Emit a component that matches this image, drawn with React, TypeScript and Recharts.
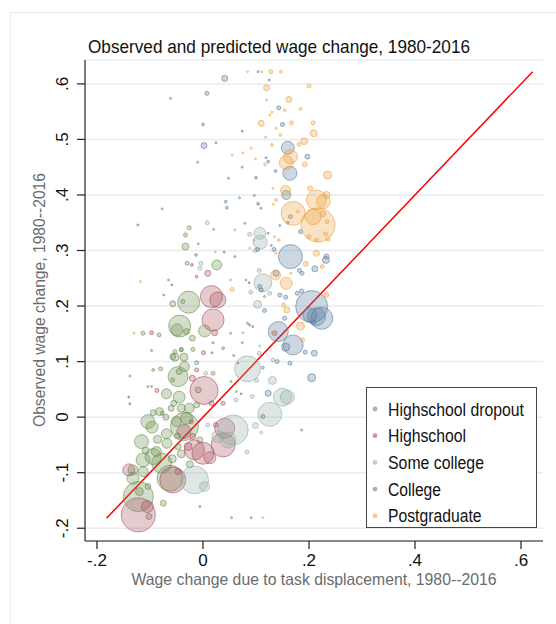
import React from "react";
import {
  ScatterChart,
  Scatter,
  XAxis,
  YAxis,
  ZAxis,
  CartesianGrid,
  ReferenceLine,
} from "recharts";

// [x: wage change due to task displacement, y: observed wage change, weight]
type Pt = [number, number, number];

const dropout: Pt[] = [
  [-0.026, 0.341, 4], [-0.033, 0.328, 4], [-0.033, 0.307, 12], [-0.009, 0.312, 1], [0.02, 0.338, 1],
  [-0.03, 0.277, 4], [0.026, 0.274, 25], [-0.077, 0.375, 1], [-0.065, 0.247, 1], [-0.074, 0.22, 1],
  [-0.027, 0.207, 121], [-0.057, 0.204, 9], [-0.038, 0.208, 4], [-0.044, 0.164, 121], [-0.049, 0.157, 36],
  [-0.031, 0.154, 9], [-0.02, 0.142, 9], [0.003, 0.155, 36], [-0.083, 0.148, 4], [-0.113, 0.151, 4],
  [-0.053, 0.118, 4], [-0.041, 0.122, 4], [-0.057, 0.109, 9], [-0.019, 0.122, 4], [-0.045, 0.082, 9],
  [-0.035, 0.091, 25], [-0.047, 0.073, 100], [-0.08, 0.087, 4], [-0.094, 0.085, 2], [-0.069, 0.042, 25],
  [-0.045, 0.036, 36], [-0.055, 0.025, 9], [-0.06, 0.016, 9], [-0.041, 0.016, 16], [-0.026, 0.016, 25],
  [-0.094, 0.008, 9], [-0.104, -0.008, 49], [-0.096, -0.018, 36], [-0.035, -0.017, 196], [-0.05, -0.008, 25],
  [-0.069, -0.03, 25], [-0.068, -0.047, 25], [-0.088, -0.062, 25], [-0.116, -0.044, 49], [-0.094, -0.071, 64],
  [-0.113, -0.077, 49], [-0.078, -0.083, 100], [-0.132, -0.095, 25], [-0.132, -0.11, 36], [-0.113, -0.098, 25],
  [-0.062, -0.11, 169], [-0.122, -0.143, 225], [-0.12, -0.134, 16], [-0.075, -0.155, 9], [-0.102, -0.179, 9],
  [-0.104, -0.125, 9], [-0.006, -0.041, 9], [-0.048, -0.034, 9], [-0.041, -0.066, 16], [-0.047, -0.053, 9],
  [-0.097, 0.055, 1], [-0.138, 0.074, 1], [-0.009, 0.049, 9], [-0.012, 0.022, 9], [-0.104, 0.055, 1],
  [-0.057, 0.067, 4], [-0.053, 0.108, 16], [-0.036, 0.108, 16], [-0.012, 0.098, 4], [-0.041, 0.121, 4],
  [0.019, 0.079, 4], [0.052, 0.151, 1], [0.053, 0.064, 1], [0.063, 0.046, 1], [0.074, 0.134, 1],
  [0.038, 0.124, 2], [0.081, 0.247, 1], [-0.082, 0.01, 16], [-0.077, 0.007, 4], [-0.031, -0.002, 36],
  [-0.086, -0.04, 16], [-0.108, -0.06, 12], [-0.058, -0.075, 16], [-0.025, -0.085, 12], [-0.07, 0.0, 9],
];

const highschool: Pt[] = [
  [0.016, 0.217, 121], [0.028, 0.211, 64], [0.019, 0.175, 121], [0.022, 0.152, 9], [0.009, 0.259, 9],
  [-0.021, 0.274, 2], [-0.012, 0.253, 2], [-0.059, 0.238, 1], [-0.097, 0.152, 4], [0.002, 0.048, 196],
  [-0.02, 0.07, 9], [-0.036, -0.026, 49], [-0.016, -0.059, 100], [0.0, -0.065, 121], [-0.14, -0.095, 36],
  [-0.057, -0.113, 169], [-0.047, -0.098, 9], [-0.105, -0.161, 36], [-0.122, -0.176, 289], [0.041, -0.02, 100],
  [0.038, -0.05, 144], [0.013, -0.073, 36], [-0.097, 0.12, 1], [-0.14, 0.036, 1], [-0.138, 0.024, 1],
  [-0.087, 0.048, 4], [-0.012, 0.085, 4], [0.001, 0.116, 4], [0.017, 0.116, 1], [0.019, 0.134, 1],
  [0.016, 0.025, 6], [0.038, 0.025, 4], [0.024, -0.014, 6], [0.087, 0.242, 1], [-0.022, -0.008, 4],
  [0.066, 0.097, 1], [-0.019, -0.035, 9], [-0.028, -0.053, 16],
];

const someCollege: Pt[] = [
  [0.008, 0.35, 4], [-0.004, 0.277, 4], [-0.006, 0.268, 4], [0.06, 0.337, 1], [0.107, 0.331, 36],
  [0.108, 0.315, 49], [0.088, 0.329, 4], [0.096, 0.319, 1], [0.098, 0.3, 4], [0.113, 0.242, 81],
  [0.106, 0.264, 4], [0.052, 0.247, 1], [0.09, 0.225, 4], [0.126, 0.223, 4], [0.084, 0.087, 169],
  [0.15, 0.036, 81], [0.159, 0.036, 49], [0.126, 0.005, 144], [0.099, -0.015, 9], [0.131, 0.066, 16],
  [0.132, 0.103, 4], [0.106, 0.115, 4], [0.101, 0.066, 4], [0.093, 0.037, 4], [0.062, 0.031, 4],
  [0.107, 0.128, 1], [0.075, 0.152, 1], [0.103, 0.203, 16], [0.083, -0.063, 4], [0.11, -0.028, 2],
  [0.057, -0.023, 225], [0.047, -0.041, 64], [-0.016, -0.113, 196], [0.003, -0.125, 25], [0.005, 0.079, 4],
  [0.009, -0.014, 4], [0.028, -0.035, 36],
];

const college: Pt[] = [
  [0.0075, 0.583, 4], [-0.061, 0.574, 1], [0.0, 0.527, 2], [0.002, 0.489, 9], [0.0245, 0.494, 1],
  [-0.01, 0.459, 1], [-0.123, 0.346, 1], [-0.013, 0.292, 2], [0.041, 0.61, 9], [0.104, 0.622, 1],
  [0.125, 0.607, 1], [0.143, 0.557, 4], [0.15, 0.527, 4], [0.074, 0.515, 1], [0.16, 0.485, 42],
  [0.197, 0.469, 6], [0.119, 0.467, 1], [0.123, 0.46, 2], [0.164, 0.439, 49], [0.137, 0.443, 2],
  [0.074, 0.45, 1], [0.048, 0.43, 1], [0.1, 0.431, 2], [0.157, 0.4, 20], [0.069, 0.395, 1],
  [0.097, 0.399, 1], [0.043, 0.388, 2], [0.045, 0.377, 2], [0.104, 0.384, 2], [0.109, 0.376, 1],
  [0.165, 0.361, 4], [0.079, 0.349, 1], [0.16, 0.35, 2], [0.145, 0.345, 1], [0.184, 0.334, 4],
  [0.123, 0.331, 1], [0.165, 0.289, 144], [0.134, 0.302, 4], [0.129, 0.309, 1], [0.103, 0.302, 4],
  [0.04, 0.297, 1], [0.06, 0.289, 1], [0.232, 0.283, 12], [0.233, 0.289, 6], [0.211, 0.267, 9],
  [0.182, 0.264, 4], [0.187, 0.259, 4], [0.138, 0.259, 9], [0.11, 0.229, 4], [0.107, 0.235, 4],
  [0.145, 0.22, 4], [0.156, 0.216, 4], [0.178, 0.223, 4], [0.186, 0.227, 4], [0.205, 0.199, 256],
  [0.224, 0.178, 121], [0.214, 0.181, 81], [0.202, 0.184, 49], [0.208, 0.171, 6], [0.142, 0.154, 100],
  [0.17, 0.13, 100], [0.156, 0.126, 16], [0.135, 0.151, 6], [0.21, 0.115, 9], [0.193, 0.117, 4],
  [0.205, 0.071, 16], [0.164, 0.097, 4], [0.123, 0.043, 9], [0.113, 0.001, 4], [0.186, -0.023, 1],
  [0.14, 0.1, 4], [0.113, 0.089, 2], [0.154, 0.178, 4], [0.116, 0.192, 4], [0.088, 0.166, 1],
  [0.094, 0.163, 1], [0.058, 0.111, 1], [0.072, 0.042, 1], [0.116, 0.217, 1], [0.084, 0.169, 1],
  [0.054, -0.181, 1], [0.091, -0.181, 1], [-0.006, -0.161, 1],
];

const postgraduate: Pt[] = [
  [0.023, 0.297, 1], [-0.118, 0.244, 1], [0.084, 0.622, 1], [0.111, 0.622, 1], [0.128, 0.622, 4],
  [0.147, 0.622, 2], [0.12, 0.593, 9], [0.2, 0.596, 4], [0.12, 0.571, 1], [0.162, 0.572, 9],
  [0.154, 0.553, 2], [0.184, 0.555, 2], [0.13, 0.549, 1], [0.126, 0.544, 1], [0.11, 0.529, 9],
  [0.167, 0.53, 4], [0.208, 0.53, 4], [0.209, 0.511, 12], [0.138, 0.52, 1], [0.146, 0.508, 2],
  [0.118, 0.504, 1], [0.191, 0.497, 12], [0.181, 0.491, 4], [0.13, 0.49, 2], [0.091, 0.484, 1],
  [0.075, 0.476, 1], [0.055, 0.472, 1], [0.165, 0.469, 49], [0.099, 0.465, 1], [0.157, 0.458, 49],
  [0.117, 0.455, 2], [0.192, 0.455, 6], [0.235, 0.436, 16], [0.132, 0.412, 1], [0.156, 0.408, 25],
  [0.202, 0.412, 6], [0.233, 0.4, 12], [0.214, 0.391, 100], [0.227, 0.388, 49], [0.138, 0.391, 2],
  [0.133, 0.383, 1], [0.17, 0.367, 144], [0.179, 0.37, 2], [0.217, 0.346, 289], [0.208, 0.361, 64],
  [0.234, 0.352, 4], [0.214, 0.319, 4], [0.236, 0.32, 4], [0.135, 0.325, 1], [0.143, 0.319, 2],
  [0.088, 0.304, 1], [0.138, 0.295, 1], [0.214, 0.295, 9], [0.194, 0.276, 6], [0.225, 0.271, 4],
  [0.166, 0.259, 1], [0.137, 0.256, 25], [0.157, 0.241, 36], [0.055, 0.23, 4], [0.152, 0.202, 4],
  [0.158, 0.193, 9], [0.184, 0.164, 16], [0.133, 0.152, 4], [0.233, 0.22, 6], [0.188, 0.139, 4],
  [0.113, -0.181, 1], [-0.13, 0.151, 1], [0.226, 0.366, 9], [0.231, 0.33, 4], [0.2, 0.325, 4],
];

const categories = ["Highschool dropout", "Highschool", "Some college", "College", "Postgraduate"];
const seriesData = [dropout, highschool, someCollege, college, postgraduate];
const COLORS = ["#6b8f4e", "#a8505e", "#94aea4", "#5a7aa0", "#f0a040"];
// measured widths of the legend labels in the reference
const legendWidths = [136, 78, 96, 53, 93.5];

// 45 degree line, from lowest to highest observed value
const fitEnds = [-0.182, 0.622];

const xTicks = [-0.2, 0, 0.2, 0.4, 0.6];
const yTicks = [-0.2, -0.1, 0, 0.1, 0.2, 0.3, 0.4, 0.5, 0.6];

const FONT = "'Liberation Sans', Arial, Helvetica, sans-serif";

// Stata style labels: .2 instead of 0.2
const fmt = (v: number) => {
  if (Math.abs(v) < 1e-9) return "0";
  const s = Math.abs(v).toFixed(1).replace(/^0/, "");
  return (v < 0 ? "-" : "") + s;
};

// eslint-disable-next-line @typescript-eslint/no-explicit-any
const YTick = (props: any) => {
  const { x, y, payload } = props;
  return (
    <text
      x={x}
      y={y}
      transform={`rotate(-90 ${x} ${y})`}
      textAnchor="middle"
      fontSize={17}
      fill="#111"
      fontFamily={FONT}
    >
      {fmt(payload.value)}
    </text>
  );
};

// eslint-disable-next-line @typescript-eslint/no-explicit-any
const XTick = (props: any) => {
  const { x, y, payload } = props;
  return (
    <text x={x} y={y} dy={13} textAnchor="middle" fontSize={17} fill="#111" fontFamily={FONT}>
      {fmt(payload.value)}
    </text>
  );
};

function LegendBox() {
  return (
    <svg
      width={172}
      height={142}
      style={{ position: "absolute", left: 366, top: 387 }}
    >
      <rect x={0.5} y={0.5} width={170} height={140} fill="#fff" stroke="#444" strokeWidth={1} />
      {categories.map((name, i) => (
        <g key={name}>
          <circle cx={9} cy={22 + i * 26.7} r={2.4} fill={COLORS[i]} fillOpacity={0.6} />
          <text
            x={22}
            y={28.5 + i * 26.7}
            fontSize={17.5}
            textLength={legendWidths[i]}
            lengthAdjust="spacingAndGlyphs"
            fill="#111"
            fontFamily={FONT}
          >
            {name}
          </text>
        </g>
      ))}
    </svg>
  );
}

export default function App() {
  return (
    <div style={{ position: "absolute", left: 0, top: 0, width: 556, height: 624, background: "#fff" }}>
      <svg width={556} height={624} style={{ position: "absolute", left: 0, top: 0 }}>
        <rect x={10.5} y={12.5} width={600} height={700} fill="none" stroke="#e8edf0" strokeWidth={1} />
        <text
          x={88}
          y={53}
          fontSize={19}
          textLength={382}
          lengthAdjust="spacingAndGlyphs"
          fill="#111"
          fontFamily={FONT}
        >
          Observed and predicted wage change, 1980-2016
        </text>
        <text
          x={314}
          y={585}
          textAnchor="middle"
          fontSize={16.5}
          textLength={365}
          lengthAdjust="spacingAndGlyphs"
          fill="#6b6b6b"
          fontFamily={FONT}
        >
          Wage change due to task displacement, 1980--2016
        </text>
        <text
          x={45}
          y={300}
          transform="rotate(-90 45 300)"
          textAnchor="middle"
          fontSize={16.5}
          textLength={254}
          lengthAdjust="spacingAndGlyphs"
          fill="#6b6b6b"
          fontFamily={FONT}
        >
          Observed wage change, 1980--2016
        </text>
      </svg>
      <div style={{ position: "absolute", left: 0, top: 0 }}>
        <ScatterChart width={556} height={624} margin={{ top: 60, right: 13, bottom: 43, left: 25 }}>
          <CartesianGrid vertical={false} stroke="#e6ecef" strokeWidth={1.5} />
          <XAxis
            type="number"
            dataKey="x"
            domain={[-0.2226, 0.6415]}
            allowDataOverflow
            ticks={xTicks}
            tick={<XTick />}
            tickSize={8}
            tickMargin={4}
            height={40}
            axisLine={{ stroke: "#222", strokeWidth: 1.2 }}
            tickLine={{ stroke: "#222", strokeWidth: 1.2 }}
          />
          <YAxis
            type="number"
            dataKey="y"
            domain={[-0.223, 0.643]}
            allowDataOverflow
            ticks={yTicks}
            tick={<YTick />}
            tickSize={8}
            tickMargin={9}
            width={60}
            axisLine={{ stroke: "#222", strokeWidth: 1.2 }}
            tickLine={{ stroke: "#222", strokeWidth: 1.2 }}
          />
          <ZAxis type="number" dataKey="w" domain={[0, 400]} range={[0, 400 * Math.PI]} />
          {seriesData.map((pts, i) => (
            <Scatter
              key={categories[i]}
              name={categories[i]}
              data={pts.map(([x, y, w]) => ({ x, y, w }))}
              shape="circle"
              fill={COLORS[i]}
              fillOpacity={0.3}
              stroke={COLORS[i]}
              strokeOpacity={0.6}
              strokeWidth={1}
              isAnimationActive={false}
            />
          ))}
          <ReferenceLine
            segment={[
              { x: fitEnds[0], y: fitEnds[0] },
              { x: fitEnds[1], y: fitEnds[1] },
            ]}
            stroke="#ff0000"
            strokeWidth={1.5}
            ifOverflow="visible"
          />
        </ScatterChart>
      </div>
      <LegendBox />
    </div>
  );
}
